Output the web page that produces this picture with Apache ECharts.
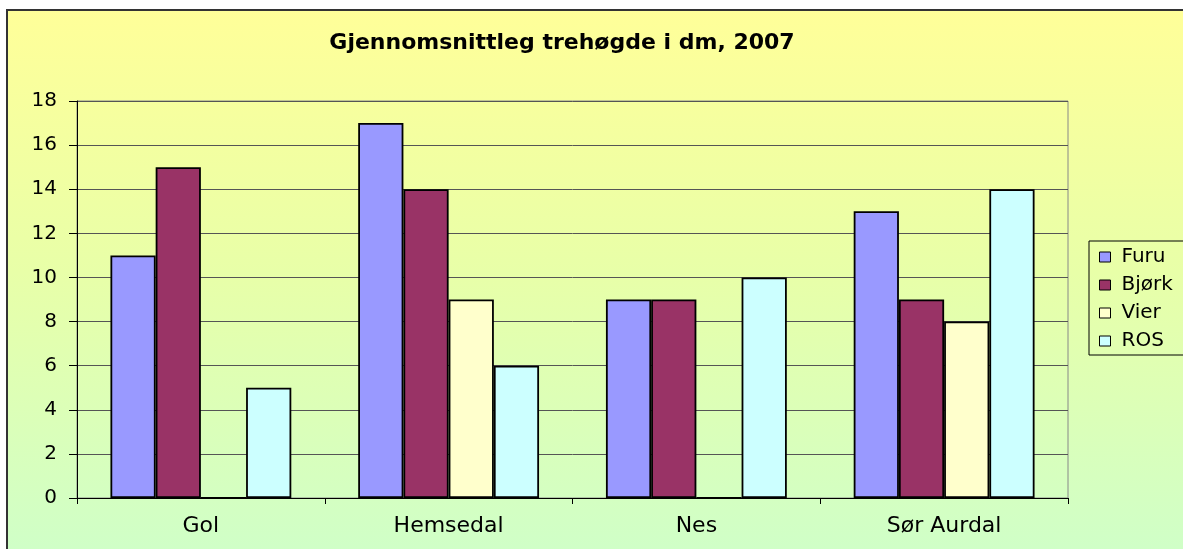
<!DOCTYPE html>
<html lang="no">
<head>
<meta charset="UTF-8">
<title>Gjennomsnittleg trehøgde</title>
<script src="https://cdn.jsdelivr.net/npm/echarts@6/dist/echarts.min.js"></script>
<style>
  html, body { margin: 0; padding: 0; background: #fff; }
  #wrap { position: relative; width: 1183px; height: 549px; overflow: hidden; }
  #frame {
    position: absolute; left: 6px; top: 9px; width: 1220px; height: 580px;
    border: 2px solid #333;
    background: linear-gradient(to bottom, #FFFF99 0%, #E8FFA8 45%, #CCFFCC 100%);
  }
  #container { position: absolute; left: 0; top: 0; width: 1183px; height: 549px; }
</style>
</head>
<body>
<div id="wrap">
  <div id="frame"></div>
  <div id="container"></div>
</div>
<script type="text/javascript">
var categories = ['Gol', 'Hemsedal', 'Nes', 'Sør Aurdal'];
var furu = [11, 17, 9, 13];
var bjork = [15, 14, 9, 9];
var vier = [0, 9, 0, 8];
var ros = [5, 6, 10, 14];
var seriesNames = ['Furu', 'Bjørk', 'Vier', 'ROS'];
var seriesColors = ['#9999FF', '#993366', '#FFFFCC', '#CCFFFF'];

var font = 'DejaVu Sans, Verdana, sans-serif';
var myChart = echarts.init(document.getElementById('container'), null, { renderer: 'canvas' });

function bar(name, data, color) {
    return {
        name: name,
        type: 'bar',
        data: data,
        barGap: '0%',
        barCategoryGap: '27%',
        itemStyle: { color: color, borderColor: '#000', borderWidth: 1.8 }
    };
}

var option = {
    backgroundColor: 'transparent',
    animation: false,
    title: {
        text: 'Gjennomsnittleg trehøgde i dm, 2007',
        left: 557,
        textAlign: 'center',
        top: 27,
        textStyle: { fontFamily: font, fontSize: 22, fontWeight: 'bold', color: '#000' }
    },
    legend: {
        orient: 'vertical',
        left: 1089,
        top: 241,
        padding: [6, 30, 4, 10],
        itemGap: 8,
        itemWidth: 11,
        itemHeight: 10,
        icon: 'rect',
        borderColor: '#000',
        borderWidth: 1,
        data: seriesNames,
        itemStyle: { borderColor: '#000', borderWidth: 1 },
        textStyle: { fontFamily: font, fontSize: 20, color: '#000', padding: [0, 0, 0, 6] }
    },
    grid: {
        left: 77,
        top: 101,
        right: 115,
        bottom: 51,
        show: true,
        borderColor: '#888',
        borderWidth: 1,
        backgroundColor: 'transparent'
    },
    xAxis: {
        type: 'category',
        data: categories,
        axisLine: { lineStyle: { color: '#000', width: 1 } },
        axisTick: { show: true, length: 6, lineStyle: { color: '#000' } },
        axisLabel: { fontFamily: font, fontSize: 22, color: '#000', margin: 17 }
    },
    yAxis: {
        type: 'value',
        min: 0,
        max: 18,
        interval: 2,
        axisLine: { show: true, lineStyle: { color: '#000', width: 1 } },
        axisTick: { show: true, length: 8, lineStyle: { color: '#000' } },
        axisLabel: { fontFamily: font, fontSize: 20, color: '#000', margin: 20 },
        splitLine: { lineStyle: { color: '#555', width: 1 } }
    },
    series: [
        bar(seriesNames[0], furu, seriesColors[0]),
        bar(seriesNames[1], bjork, seriesColors[1]),
        bar(seriesNames[2], vier, seriesColors[2]),
        bar(seriesNames[3], ros, seriesColors[3])
    ]
};

myChart.setOption(option);
window.addEventListener('resize', myChart.resize);
</script>
</body>
</html>
